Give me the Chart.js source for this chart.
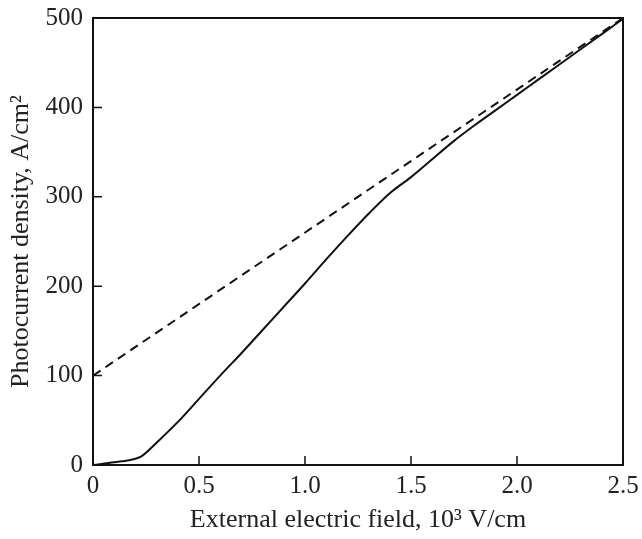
<!DOCTYPE html>
<html>
<head>
<meta charset="utf-8">
<script src="https://cdn.jsdelivr.net/npm/chart.js@4/dist/chart.umd.min.js"></script>
<style>
  html, body { margin: 0; padding: 0; background: #fff; }
  #wrap { width: 642px; height: 539px; }
</style>
</head>
<body>
<div id="wrap"><canvas id="chart" width="642" height="539"></canvas></div>
<script>
// measured curve (field in 10^3 V/cm, current in A/cm^2)
const fieldX = [0, 0.1, 0.2, 0.23, 0.3, 0.42, 0.5, 0.6, 0.7, 0.8, 0.9, 1.0, 1.1, 1.2, 1.3, 1.4, 1.5, 1.6, 1.7, 1.8, 1.9, 2.0, 2.1, 2.2, 2.3, 2.4, 2.5];
const currentY = [0, 3, 7, 10, 25, 53, 74, 100, 125, 151, 177, 203, 230, 256, 281, 304, 322, 342, 362, 380, 397, 414, 431, 448, 465, 482, 499];

// dashed linear extrapolation
const dashX = [0, 2.5];
const dashY = [100, 500];

const xTicks = [0, 0.5, 1.0, 1.5, 2.0, 2.5];
const yTicks = [0, 100, 200, 300, 400, 500];

const pts = (xs, ys) => xs.map((x, i) => ({ x: x, y: ys[i] }));

const serif = "'Liberation Serif', 'DejaVu Serif', serif";

// inward ticks plus top/right frame
const frame = {
  id: 'frame',
  afterDraw(chart) {
    const c = chart.ctx, a = chart.chartArea;
    const xs = chart.scales.x, ys = chart.scales.y;
    c.save();
    c.strokeStyle = '#111';
    c.lineWidth = 2;
    c.strokeRect(a.left, a.top, a.right - a.left, a.bottom - a.top);
    c.lineWidth = 1.5;
    c.beginPath();
    xTicks.forEach(v => {
      const px = xs.getPixelForValue(v);
      c.moveTo(px, a.bottom);
      c.lineTo(px, a.bottom - 9);
    });
    yTicks.forEach(v => {
      const py = ys.getPixelForValue(v);
      c.moveTo(a.left, py);
      c.lineTo(a.left + 9, py);
    });
    c.stroke();
    c.restore();
  }
};

new Chart(document.getElementById('chart'), {
  type: 'scatter',
  data: {
    datasets: [{
      data: pts(fieldX, currentY),
      showLine: true,
      borderColor: '#111',
      borderWidth: 2,
      pointRadius: 0,
      cubicInterpolationMode: 'monotone'
    }, {
      data: pts(dashX, dashY),
      showLine: true,
      borderColor: '#111',
      borderWidth: 2,
      borderDash: [9, 6],
      pointRadius: 0
    }]
  },
  options: {
    responsive: false,
    animation: false,
    layout: { padding: { top: 18, right: 19, left: 0, bottom: 0 } },
    plugins: { legend: { display: false }, tooltip: { enabled: false } },
    scales: {
      x: {
        type: 'linear',
        min: 0, max: 2.5,
        afterBuildTicks: s => { s.ticks = xTicks.map(v => ({ value: v })); },
        afterFit: s => { s.height = 74; s.paddingLeft = 0; s.paddingRight = 0; },
        grid: { display: false, drawTicks: false },
        border: { display: false },
        ticks: {
          color: '#222', font: { family: serif, size: 25 }, padding: 6,
          callback: v => v === 0 ? '0' : v.toFixed(1)
        },
        title: {
          display: true, text: 'External electric field, 10³ V/cm',
          color: '#222', font: { family: serif, size: 26 }, padding: { top: 0, bottom: 3 }
        }
      },
      y: {
        min: 0, max: 500,
        afterBuildTicks: s => { s.ticks = yTicks.map(v => ({ value: v })); },
        afterFit: s => { s.width = 93; s.paddingTop = 0; s.paddingBottom = 0; },
        grid: { display: false, drawTicks: false },
        border: { display: false },
        ticks: { color: '#222', font: { family: serif, size: 25 }, padding: 10 },
        title: {
          display: true, text: 'Photocurrent density, A/cm²',
          color: '#222', font: { family: serif, size: 26 }, padding: { top: 6, bottom: 0 }
        }
      }
    }
  },
  plugins: [frame]
});
</script>
</body>
</html>
